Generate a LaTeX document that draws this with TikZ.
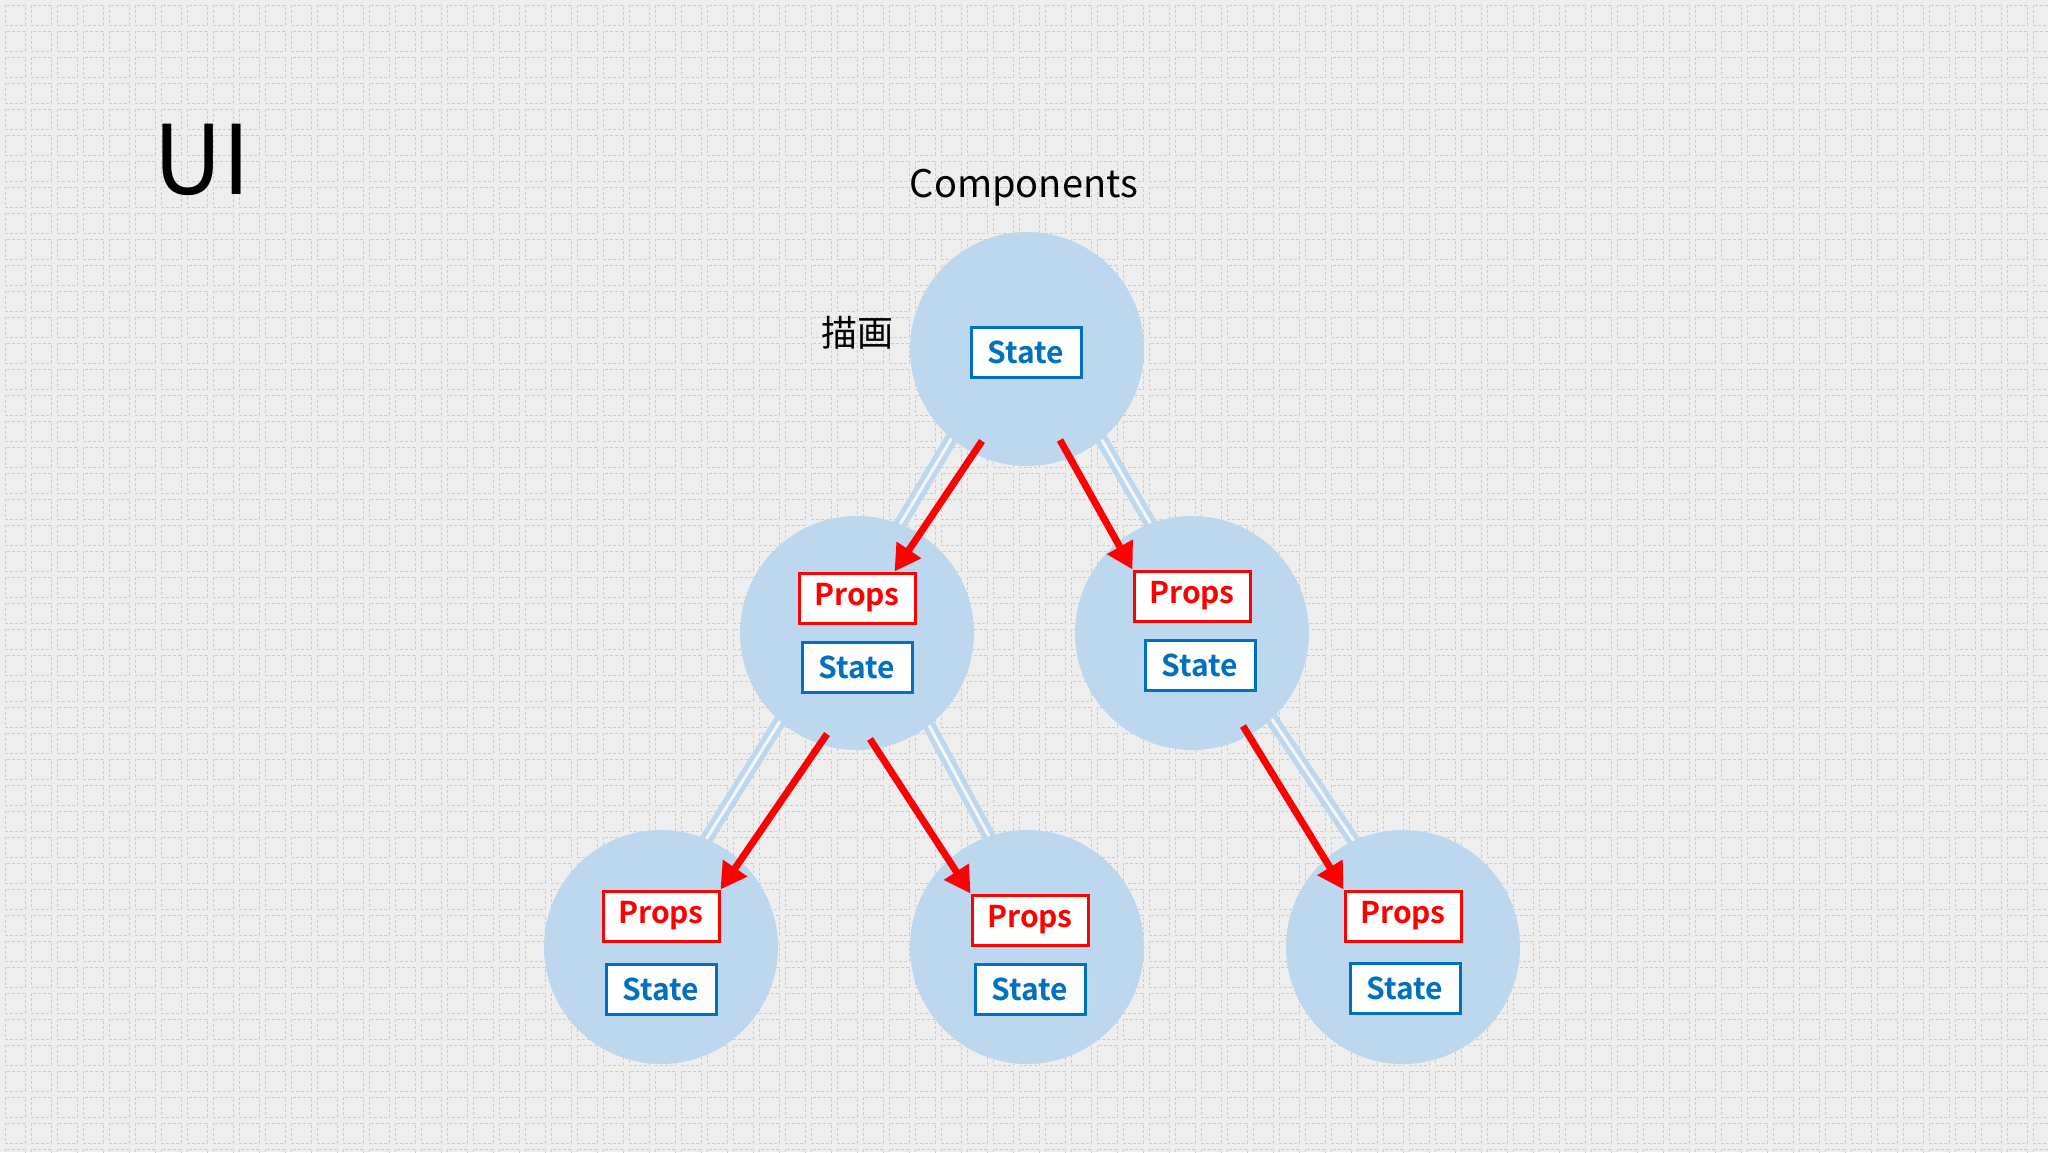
\documentclass[tikz,border=0pt]{standalone}
\usepackage{fontspec}
\setmainfont{Noto Sans CJK JP}[BoldFont={Noto Sans CJK JP Bold}]
\usetikzlibrary{arrows.meta}
\definecolor{bg}{HTML}{EEEEEE}
\definecolor{lb}{HTML}{BDD7EE}
\definecolor{sblue}{HTML}{0070C0}
\definecolor{pred}{HTML}{FF0000}
\tikzset{
 comp/.style={circle,fill=lb,minimum size=234pt,inner sep=0pt},
 statebox/.style={draw=sblue,line width=3pt,fill=white,text=sblue,font=\fontsize{30}{30}\selectfont\bfseries,minimum width=110pt,minimum height=50pt,inner sep=0pt},
 propsbox/.style={draw=pred,line width=3pt,fill=white,text=pred,font=\fontsize{30}{30}\selectfont\bfseries,minimum width=116pt,minimum height=50pt,inner sep=0pt},
 link/.style={draw=lb,line width=5pt,double=bg!60!white,double distance=3pt},
 flow/.style={draw=pred,line width=7pt,-{Triangle[length=26pt,width=28pt]}}
}
\begin{document}
\begin{tikzpicture}[x=1pt,y=-1pt]
\fill[bg] (0,0) rectangle (2048,1152);
\useasboundingbox (0,0) rectangle (2048,1152);
\foreach \i in {0,...,78}{\foreach \j in {0,...,44}{
 \draw[gray!40,line width=0.8pt,dash pattern=on 3pt off 2pt] (5+26*\i,5+26*\j) rectangle ++(20,20);}}
\node[font=\fontsize{96}{96}\selectfont] (ui) at (202,160) {UI};
\node[font=\fontsize{38}{38}\selectfont] (title) at (1024,188) {Components};
\node[font=\fontsize{36}{36}\selectfont] (draw) at (857,333) {描画};
% circle centers
\coordinate (cr) at (1027,349);
\coordinate (cml) at (857,633);
\coordinate (cmr) at (1192,633);
\coordinate (cbl) at (661,947);
\coordinate (cbm) at (1027,947);
\coordinate (cbr) at (1403,947);
% links
\draw[link] ([xshift=-22pt]cr) -- ([xshift=-22pt]cml);
\draw[link] ([xshift=22pt]cr) -- ([xshift=22pt]cmr);
\draw[link] ([xshift=-22pt]cml) -- ([xshift=-22pt]cbl);
\draw[link] ([xshift=22pt]cml) -- ([xshift=22pt]cbm);
\draw[link] ([xshift=22pt]cmr) -- ([xshift=22pt]cbr);
% circles
\node[comp] (r) at (cr) {};
\node[comp] (ml) at (cml) {};
\node[comp] (mr) at (cmr) {};
\node[comp] (bl) at (cbl) {};
\node[comp] (bm) at (cbm) {};
\node[comp] (br) at (cbr) {};
% boxes
\node[statebox] (rs) at (1026,352) {State};
\node[propsbox] (mlp) at (857,598) {Props};
\node[statebox] (mls) at (857,667) {State};
\node[propsbox] (mrp) at (1192,596) {Props};
\node[statebox] (mrs) at (1200,665) {State};
\node[propsbox] (blp) at (661,916) {Props};
\node[statebox] (bls) at (661,989) {State};
\node[propsbox] (bmp) at (1030,920) {Props};
\node[statebox] (bms) at (1030,989) {State};
\node[propsbox] (brp) at (1403,916) {Props};
\node[statebox] (brs) at (1405,988) {State};
% arrows
\coordinate (a1) at (982,441);
\coordinate (a2) at (1060,440);
\coordinate (a3) at (827,734);
\coordinate (a4) at (870,739);
\coordinate (a5) at (1243,726);
\draw[flow] (a1) -- ([xshift=-22pt]mlp.north east);
\draw[flow] (a2) -- (mrp.north west);
\draw[flow] (a3) -- (blp.north east);
\draw[flow] (a4) -- (bmp.north west);
\draw[flow] (a5) -- (brp.north west);
\end{tikzpicture}
\end{document}
